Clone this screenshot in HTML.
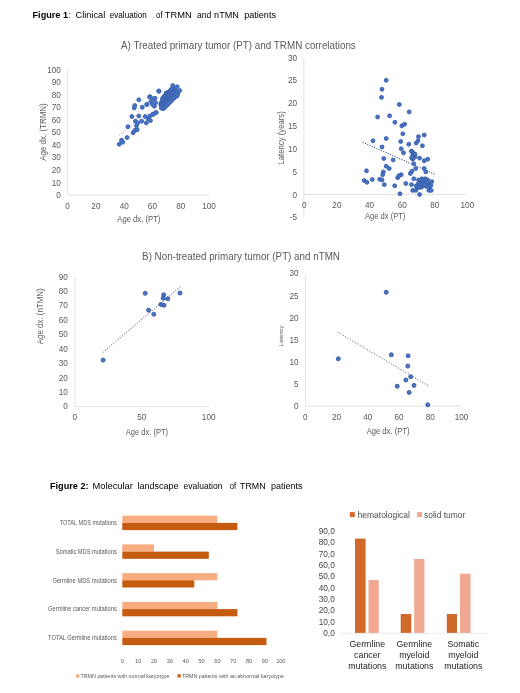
<!DOCTYPE html>
<html><head><meta charset="utf-8"><title>Figures</title>
<style>
html,body{margin:0;padding:0;background:#fff;}
body{width:520px;height:693px;overflow:hidden;font-family:"Liberation Sans",sans-serif;}
svg{display:block;filter:blur(0.35px)}
text{font-family:"Liberation Sans",sans-serif;}
.t{fill:#595959}
</style></head><body>
<svg width="520" height="693" viewBox="0 0 520 693">
<rect width="520" height="693" fill="#fff"/>
<text y="18.3" font-size="9.1" fill="#000"><tspan x="32.5" textLength="35.6" lengthAdjust="spacingAndGlyphs" font-weight="bold">Figure 1</tspan> <tspan x="68.5" textLength="2.1" lengthAdjust="spacingAndGlyphs">:</tspan> <tspan x="75.6" textLength="29.6" lengthAdjust="spacingAndGlyphs">Clinical</tspan> <tspan x="109.8" textLength="36.9" lengthAdjust="spacingAndGlyphs">evaluation</tspan> <tspan x="156" textLength="6.6" lengthAdjust="spacingAndGlyphs">of</tspan> <tspan x="164.8" textLength="26.9" lengthAdjust="spacingAndGlyphs">TRMN</tspan> <tspan x="197.1" textLength="14.3" lengthAdjust="spacingAndGlyphs">and</tspan> <tspan x="214.1" textLength="24.8" lengthAdjust="spacingAndGlyphs">nTMN</tspan> <tspan x="244.2" textLength="31.8" lengthAdjust="spacingAndGlyphs">patients</tspan></text>
<text x="238.4" y="48.8" font-size="10.5" text-anchor="middle" fill="#595959" textLength="234.8" lengthAdjust="spacingAndGlyphs">A) Treated primary tumor (PT) and TRMN correlations</text>
<path d="M67.6 69.6V195.0H209.5" fill="none" stroke="#D9D9D9" stroke-width="0.8"/>
<text x="60.9" y="198.0" font-size="8.2" text-anchor="end" fill="#595959">0</text>
<text x="60.9" y="185.5" font-size="8.2" text-anchor="end" fill="#595959">10</text>
<text x="60.9" y="172.9" font-size="8.2" text-anchor="end" fill="#595959">20</text>
<text x="60.9" y="160.4" font-size="8.2" text-anchor="end" fill="#595959">30</text>
<text x="60.9" y="147.8" font-size="8.2" text-anchor="end" fill="#595959">40</text>
<text x="60.9" y="135.3" font-size="8.2" text-anchor="end" fill="#595959">50</text>
<text x="60.9" y="122.8" font-size="8.2" text-anchor="end" fill="#595959">60</text>
<text x="60.9" y="110.2" font-size="8.2" text-anchor="end" fill="#595959">70</text>
<text x="60.9" y="97.7" font-size="8.2" text-anchor="end" fill="#595959">80</text>
<text x="60.9" y="85.1" font-size="8.2" text-anchor="end" fill="#595959">90</text>
<text x="60.9" y="72.6" font-size="8.2" text-anchor="end" fill="#595959">100</text>
<text x="67.6" y="208.6" font-size="8.2" text-anchor="middle" fill="#595959">0</text>
<text x="95.9" y="208.6" font-size="8.2" text-anchor="middle" fill="#595959">20</text>
<text x="124.2" y="208.6" font-size="8.2" text-anchor="middle" fill="#595959">40</text>
<text x="152.4" y="208.6" font-size="8.2" text-anchor="middle" fill="#595959">60</text>
<text x="180.7" y="208.6" font-size="8.2" text-anchor="middle" fill="#595959">80</text>
<text x="209.0" y="208.6" font-size="8.2" text-anchor="middle" fill="#595959">100</text>
<text x="138.8" y="221.6" font-size="8.6" text-anchor="middle" fill="#595959" textLength="43.0" lengthAdjust="spacingAndGlyphs">Age dx. (PT)</text>
<text x="0.0" y="0.0" font-size="8.6" text-anchor="middle" fill="#595959" textLength="57.5" lengthAdjust="spacingAndGlyphs" transform="translate(46.3,132) rotate(-90)">Age dx. (TRMN)</text>
<path d="M119.2 135.4L134 124.2" stroke="#E0607A" stroke-width="0.7" stroke-dasharray="1.2 1.2" fill="none"/>
<g fill="#4674C6" stroke="#3D63AF" stroke-width="0.9"><circle cx="119.2" cy="144.2" r="2.0"/><circle cx="121.5" cy="140.2" r="2.0"/><circle cx="122.7" cy="142.2" r="2.0"/><circle cx="127.1" cy="137.5" r="2.0"/><circle cx="127.9" cy="126.7" r="2.0"/><circle cx="133.1" cy="132.7" r="2.0"/><circle cx="134.8" cy="130.4" r="2.0"/><circle cx="137.1" cy="129.8" r="2.0"/><circle cx="136.5" cy="125.8" r="2.0"/><circle cx="135.4" cy="121.2" r="2.0"/><circle cx="137.7" cy="122.9" r="2.0"/><circle cx="131.9" cy="116.5" r="2.0"/><circle cx="138.8" cy="116.0" r="2.0"/><circle cx="145.2" cy="116.5" r="2.0"/><circle cx="141.7" cy="121.2" r="2.0"/><circle cx="146.3" cy="122.9" r="2.0"/><circle cx="148.1" cy="118.8" r="2.0"/><circle cx="150.4" cy="120.6" r="2.0"/><circle cx="149.8" cy="116.0" r="2.0"/><circle cx="153.3" cy="114.2" r="2.0"/><circle cx="156.2" cy="112.5" r="2.0"/><circle cx="134.8" cy="105.6" r="2.0"/><circle cx="134.2" cy="107.9" r="2.0"/><circle cx="138.8" cy="99.8" r="2.0"/><circle cx="142.3" cy="107.3" r="2.0"/><circle cx="146.9" cy="104.4" r="2.0"/><circle cx="149.8" cy="96.9" r="2.0"/><circle cx="151.0" cy="101.5" r="2.0"/><circle cx="153.8" cy="98.7" r="2.0"/><circle cx="154.4" cy="106.2" r="2.0"/><circle cx="155.6" cy="102.7" r="2.0"/><circle cx="159.0" cy="91.2" r="2.0"/><circle cx="172.7" cy="85.6" r="2.0"/><circle cx="174.6" cy="89.0" r="2.0"/><circle cx="178.1" cy="92.5" r="2.0"/><circle cx="176.9" cy="96.0" r="2.0"/><circle cx="173.5" cy="97.7" r="2.0"/><circle cx="170.0" cy="101.2" r="2.0"/><circle cx="167.1" cy="104.6" r="2.0"/><circle cx="163.1" cy="108.7" r="2.0"/><circle cx="161.3" cy="108.1" r="2.0"/><circle cx="160.8" cy="104.0" r="2.0"/><circle cx="162.5" cy="100.0" r="2.0"/><circle cx="164.8" cy="96.0" r="2.0"/><circle cx="167.7" cy="92.5" r="2.0"/><circle cx="170.6" cy="90.8" r="2.0"/><circle cx="172.9" cy="91.3" r="2.0"/><circle cx="175.2" cy="93.7" r="2.0"/><circle cx="171.2" cy="94.8" r="2.0"/><circle cx="168.8" cy="97.7" r="2.0"/><circle cx="166.0" cy="100.6" r="2.0"/><circle cx="164.2" cy="104.0" r="2.0"/><circle cx="163.1" cy="105.8" r="2.0"/><circle cx="169.4" cy="93.7" r="2.0"/><circle cx="167.1" cy="97.1" r="2.0"/><circle cx="174.0" cy="93.1" r="2.0"/><circle cx="171.7" cy="98.3" r="2.0"/><circle cx="158.7" cy="91.0" r="2.0"/><circle cx="149.8" cy="96.8" r="2.0"/><circle cx="155.0" cy="98.3" r="2.0"/><circle cx="146.9" cy="104.4" r="2.0"/><circle cx="152.7" cy="104.6" r="2.0"/><circle cx="155.6" cy="112.7" r="2.0"/><circle cx="152.7" cy="114.4" r="2.0"/><circle cx="161.2" cy="102.8" r="2.0"/><circle cx="161.2" cy="104.4" r="2.0"/><circle cx="161.2" cy="106.0" r="2.0"/><circle cx="162.8" cy="97.9" r="2.0"/><circle cx="162.8" cy="99.5" r="2.0"/><circle cx="162.8" cy="101.2" r="2.0"/><circle cx="162.8" cy="102.8" r="2.0"/><circle cx="162.8" cy="104.4" r="2.0"/><circle cx="162.8" cy="106.0" r="2.0"/><circle cx="162.8" cy="107.6" r="2.0"/><circle cx="164.5" cy="96.3" r="2.0"/><circle cx="164.5" cy="97.9" r="2.0"/><circle cx="164.5" cy="99.5" r="2.0"/><circle cx="164.5" cy="101.2" r="2.0"/><circle cx="164.5" cy="102.8" r="2.0"/><circle cx="164.5" cy="104.4" r="2.0"/><circle cx="164.5" cy="106.0" r="2.0"/><circle cx="164.5" cy="107.6" r="2.0"/><circle cx="166.1" cy="93.1" r="2.0"/><circle cx="166.1" cy="94.7" r="2.0"/><circle cx="166.1" cy="96.3" r="2.0"/><circle cx="166.1" cy="97.9" r="2.0"/><circle cx="166.1" cy="99.5" r="2.0"/><circle cx="166.1" cy="101.2" r="2.0"/><circle cx="166.1" cy="102.8" r="2.0"/><circle cx="166.1" cy="104.4" r="2.0"/><circle cx="166.1" cy="106.0" r="2.0"/><circle cx="167.7" cy="93.1" r="2.0"/><circle cx="167.7" cy="94.7" r="2.0"/><circle cx="167.7" cy="96.3" r="2.0"/><circle cx="167.7" cy="97.9" r="2.0"/><circle cx="167.7" cy="99.5" r="2.0"/><circle cx="167.7" cy="101.2" r="2.0"/><circle cx="167.7" cy="102.8" r="2.0"/><circle cx="167.7" cy="104.4" r="2.0"/><circle cx="169.3" cy="91.5" r="2.0"/><circle cx="169.3" cy="93.1" r="2.0"/><circle cx="169.3" cy="94.7" r="2.0"/><circle cx="169.3" cy="96.3" r="2.0"/><circle cx="169.3" cy="97.9" r="2.0"/><circle cx="169.3" cy="99.5" r="2.0"/><circle cx="169.3" cy="101.2" r="2.0"/><circle cx="169.3" cy="102.8" r="2.0"/><circle cx="170.9" cy="89.8" r="2.0"/><circle cx="170.9" cy="91.5" r="2.0"/><circle cx="170.9" cy="93.1" r="2.0"/><circle cx="170.9" cy="94.7" r="2.0"/><circle cx="170.9" cy="96.3" r="2.0"/><circle cx="170.9" cy="97.9" r="2.0"/><circle cx="170.9" cy="99.5" r="2.0"/><circle cx="170.9" cy="101.2" r="2.0"/><circle cx="172.5" cy="88.2" r="2.0"/><circle cx="172.5" cy="89.8" r="2.0"/><circle cx="172.5" cy="91.5" r="2.0"/><circle cx="172.5" cy="93.1" r="2.0"/><circle cx="172.5" cy="94.7" r="2.0"/><circle cx="172.5" cy="96.3" r="2.0"/><circle cx="172.5" cy="97.9" r="2.0"/><circle cx="172.5" cy="99.5" r="2.0"/><circle cx="174.2" cy="89.8" r="2.0"/><circle cx="174.2" cy="91.5" r="2.0"/><circle cx="174.2" cy="93.1" r="2.0"/><circle cx="174.2" cy="94.7" r="2.0"/><circle cx="174.2" cy="96.3" r="2.0"/><circle cx="174.2" cy="97.9" r="2.0"/><circle cx="175.8" cy="91.5" r="2.0"/><circle cx="175.8" cy="93.1" r="2.0"/><circle cx="175.8" cy="94.7" r="2.0"/><circle cx="175.8" cy="96.3" r="2.0"/><circle cx="177.4" cy="93.1" r="2.0"/><circle cx="177.4" cy="94.7" r="2.0"/><circle cx="179.6" cy="90.6" r="2.0"/><circle cx="177.2" cy="86.8" r="2.0"/></g>
<path d="M303.9 58.4V217.4" fill="none" stroke="#D9D9D9" stroke-width="0.8"/>
<path d="M303.9 194.4H466.2" fill="none" stroke="#D9D9D9" stroke-width="0.8"/>
<text x="297.1" y="220.3" font-size="8.2" text-anchor="end" fill="#595959">-5</text>
<text x="297.1" y="197.5" font-size="8.2" text-anchor="end" fill="#595959">0</text>
<text x="297.1" y="174.7" font-size="8.2" text-anchor="end" fill="#595959">5</text>
<text x="297.1" y="151.8" font-size="8.2" text-anchor="end" fill="#595959">10</text>
<text x="297.1" y="129.0" font-size="8.2" text-anchor="end" fill="#595959">15</text>
<text x="297.1" y="106.2" font-size="8.2" text-anchor="end" fill="#595959">20</text>
<text x="297.1" y="83.3" font-size="8.2" text-anchor="end" fill="#595959">25</text>
<text x="297.1" y="60.5" font-size="8.2" text-anchor="end" fill="#595959">30</text>
<text x="304.3" y="208.3" font-size="8.2" text-anchor="middle" fill="#595959">0</text>
<text x="336.9" y="208.3" font-size="8.2" text-anchor="middle" fill="#595959">20</text>
<text x="369.5" y="208.3" font-size="8.2" text-anchor="middle" fill="#595959">40</text>
<text x="402.2" y="208.3" font-size="8.2" text-anchor="middle" fill="#595959">60</text>
<text x="434.8" y="208.3" font-size="8.2" text-anchor="middle" fill="#595959">80</text>
<text x="467.4" y="208.3" font-size="8.2" text-anchor="middle" fill="#595959">100</text>
<text x="385.2" y="218.8" font-size="8.6" text-anchor="middle" fill="#595959" textLength="40.4" lengthAdjust="spacingAndGlyphs">Age dx (PT)</text>
<text x="0.0" y="0.0" font-size="8.6" text-anchor="middle" fill="#595959" textLength="53.3" lengthAdjust="spacingAndGlyphs" transform="translate(283.7,137.9) rotate(-90)">Latency (years)</text>
<path d="M363.1 142.4L435.8 174.7" stroke="#34508A" stroke-width="1.15" stroke-linecap="round" stroke-dasharray="0.1 2.4" fill="none"/>
<g fill="#4674C6" stroke="#3A5EA8" stroke-width="0.9"><circle cx="386.2" cy="80.3" r="1.95"/><circle cx="382.0" cy="89.3" r="1.95"/><circle cx="381.5" cy="97.4" r="1.95"/><circle cx="399.3" cy="104.5" r="1.95"/><circle cx="409.2" cy="111.9" r="1.95"/><circle cx="377.6" cy="117.0" r="1.95"/><circle cx="389.6" cy="115.8" r="1.95"/><circle cx="394.9" cy="122.3" r="1.95"/><circle cx="401.8" cy="125.8" r="1.95"/><circle cx="404.6" cy="124.2" r="1.95"/><circle cx="402.8" cy="133.8" r="1.95"/><circle cx="418.5" cy="136.6" r="1.95"/><circle cx="424.2" cy="135.0" r="1.95"/><circle cx="386.2" cy="138.5" r="1.95"/><circle cx="373.0" cy="140.8" r="1.95"/><circle cx="400.7" cy="141.5" r="1.95"/><circle cx="408.8" cy="144.2" r="1.95"/><circle cx="416.2" cy="143.1" r="1.95"/><circle cx="422.4" cy="145.8" r="1.95"/><circle cx="382.0" cy="147.0" r="1.95"/><circle cx="401.2" cy="148.8" r="1.95"/><circle cx="403.5" cy="152.8" r="1.95"/><circle cx="411.5" cy="151.2" r="1.95"/><circle cx="413.8" cy="153.5" r="1.95"/><circle cx="412.7" cy="155.8" r="1.95"/><circle cx="415.0" cy="156.9" r="1.95"/><circle cx="419.6" cy="158.1" r="1.95"/><circle cx="412.7" cy="159.2" r="1.95"/><circle cx="427.7" cy="159.2" r="1.95"/><circle cx="424.2" cy="160.8" r="1.95"/><circle cx="383.8" cy="158.5" r="1.95"/><circle cx="393.1" cy="159.9" r="1.95"/><circle cx="413.8" cy="163.8" r="1.95"/><circle cx="386.2" cy="166.2" r="1.95"/><circle cx="389.2" cy="168.5" r="1.95"/><circle cx="415.7" cy="168.5" r="1.95"/><circle cx="424.2" cy="168.5" r="1.95"/><circle cx="425.8" cy="171.9" r="1.95"/><circle cx="366.5" cy="170.8" r="1.95"/><circle cx="383.4" cy="171.9" r="1.95"/><circle cx="382.7" cy="174.7" r="1.95"/><circle cx="410.4" cy="173.5" r="1.95"/><circle cx="401.2" cy="174.7" r="1.95"/><circle cx="397.7" cy="177.7" r="1.95"/><circle cx="372.3" cy="179.5" r="1.95"/><circle cx="379.7" cy="179.3" r="1.95"/><circle cx="382.0" cy="180.0" r="1.95"/><circle cx="364.2" cy="180.5" r="1.95"/><circle cx="367.0" cy="182.3" r="1.95"/><circle cx="384.3" cy="184.6" r="1.95"/><circle cx="394.7" cy="185.8" r="1.95"/><circle cx="405.8" cy="183.5" r="1.95"/><circle cx="411.5" cy="184.6" r="1.95"/><circle cx="413.8" cy="178.8" r="1.95"/><circle cx="418.5" cy="180.0" r="1.95"/><circle cx="421.9" cy="178.8" r="1.95"/><circle cx="425.4" cy="178.8" r="1.95"/><circle cx="427.7" cy="180.0" r="1.95"/><circle cx="420.8" cy="182.3" r="1.95"/><circle cx="424.2" cy="182.3" r="1.95"/><circle cx="427.7" cy="183.5" r="1.95"/><circle cx="431.8" cy="181.6" r="1.95"/><circle cx="419.6" cy="185.8" r="1.95"/><circle cx="423.1" cy="185.8" r="1.95"/><circle cx="426.5" cy="186.5" r="1.95"/><circle cx="429.5" cy="186.9" r="1.95"/><circle cx="417.3" cy="188.1" r="1.95"/><circle cx="412.7" cy="190.4" r="1.95"/><circle cx="415.7" cy="190.4" r="1.95"/><circle cx="428.8" cy="190.4" r="1.95"/><circle cx="431.2" cy="190.4" r="1.95"/><circle cx="400.0" cy="193.8" r="1.95"/><circle cx="419.6" cy="194.5" r="1.95"/><circle cx="420.8" cy="180.0" r="1.95"/><circle cx="423.5" cy="180.5" r="1.95"/><circle cx="425.8" cy="181.8" r="1.95"/><circle cx="422.2" cy="184.2" r="1.95"/><circle cx="424.9" cy="184.6" r="1.95"/><circle cx="418.5" cy="183.5" r="1.95"/><circle cx="421.2" cy="187.4" r="1.95"/><circle cx="416.2" cy="185.8" r="1.95"/><circle cx="418.0" cy="140.7" r="1.95"/><circle cx="411.9" cy="151.6" r="1.95"/><circle cx="415.0" cy="154.2" r="1.95"/><circle cx="411.6" cy="157.7" r="1.95"/><circle cx="411.9" cy="171.2" r="1.95"/><circle cx="398.9" cy="175.8" r="1.95"/><circle cx="430.9" cy="185.4" r="1.95"/><circle cx="428.3" cy="181.9" r="1.95"/><circle cx="418.8" cy="187.1" r="1.95"/></g>
<text x="241.0" y="260.4" font-size="10.5" text-anchor="middle" fill="#595959" textLength="197.8" lengthAdjust="spacingAndGlyphs">B) Non-treated primary tumor (PT) and nTMN</text>
<path d="M74.9 277.5V406.6H209.1" fill="none" stroke="#D9D9D9" stroke-width="0.8"/>
<text x="67.9" y="409.4" font-size="8.2" text-anchor="end" fill="#595959">0</text>
<text x="67.9" y="395.0" font-size="8.2" text-anchor="end" fill="#595959">10</text>
<text x="67.9" y="380.5" font-size="8.2" text-anchor="end" fill="#595959">20</text>
<text x="67.9" y="366.1" font-size="8.2" text-anchor="end" fill="#595959">30</text>
<text x="67.9" y="351.7" font-size="8.2" text-anchor="end" fill="#595959">40</text>
<text x="67.9" y="337.3" font-size="8.2" text-anchor="end" fill="#595959">50</text>
<text x="67.9" y="322.8" font-size="8.2" text-anchor="end" fill="#595959">60</text>
<text x="67.9" y="308.4" font-size="8.2" text-anchor="end" fill="#595959">70</text>
<text x="67.9" y="294.0" font-size="8.2" text-anchor="end" fill="#595959">80</text>
<text x="67.9" y="279.5" font-size="8.2" text-anchor="end" fill="#595959">90</text>
<text x="74.9" y="419.9" font-size="8.2" text-anchor="middle" fill="#595959">0</text>
<text x="141.8" y="419.9" font-size="8.2" text-anchor="middle" fill="#595959">50</text>
<text x="208.7" y="419.9" font-size="8.2" text-anchor="middle" fill="#595959">100</text>
<text x="146.9" y="435.2" font-size="8.6" text-anchor="middle" fill="#595959" textLength="42.5" lengthAdjust="spacingAndGlyphs">Age dx. (PT)</text>
<text x="0.0" y="0.0" font-size="8.6" text-anchor="middle" fill="#595959" textLength="55.8" lengthAdjust="spacingAndGlyphs" transform="translate(42.5,316.3) rotate(-90)">Age dx. (nTMN)</text>
<path d="M103.1 352.1L180.6 286.5" stroke="#6E7A99" stroke-width="1.15" stroke-linecap="round" stroke-dasharray="0.1 2.7" fill="none"/>
<g fill="#4A76C6" stroke="#34559D" stroke-width="0.9"><circle cx="103.1" cy="360.1" r="2.0"/><circle cx="145.2" cy="293.3" r="2.0"/><circle cx="148.6" cy="310.2" r="2.0"/><circle cx="153.8" cy="314.2" r="2.0"/><circle cx="160.9" cy="304.4" r="2.0"/><circle cx="164.0" cy="305.3" r="2.0"/><circle cx="163.7" cy="294.8" r="2.0"/><circle cx="163.1" cy="298.2" r="2.0"/><circle cx="167.7" cy="298.8" r="2.0"/><circle cx="180.0" cy="293.0" r="2.0"/></g>
<path d="M305.5 274.5V406.2H461.4" fill="none" stroke="#D9D9D9" stroke-width="0.8"/>
<text x="298.5" y="408.9" font-size="8.2" text-anchor="end" fill="#595959">0</text>
<text x="298.5" y="386.8" font-size="8.2" text-anchor="end" fill="#595959">5</text>
<text x="298.5" y="364.7" font-size="8.2" text-anchor="end" fill="#595959">10</text>
<text x="298.5" y="342.6" font-size="8.2" text-anchor="end" fill="#595959">15</text>
<text x="298.5" y="320.6" font-size="8.2" text-anchor="end" fill="#595959">20</text>
<text x="298.5" y="298.5" font-size="8.2" text-anchor="end" fill="#595959">25</text>
<text x="298.5" y="276.4" font-size="8.2" text-anchor="end" fill="#595959">30</text>
<text x="305.3" y="420.0" font-size="8.2" text-anchor="middle" fill="#595959">0</text>
<text x="336.6" y="420.0" font-size="8.2" text-anchor="middle" fill="#595959">20</text>
<text x="367.8" y="420.0" font-size="8.2" text-anchor="middle" fill="#595959">40</text>
<text x="399.1" y="420.0" font-size="8.2" text-anchor="middle" fill="#595959">60</text>
<text x="430.3" y="420.0" font-size="8.2" text-anchor="middle" fill="#595959">80</text>
<text x="461.6" y="420.0" font-size="8.2" text-anchor="middle" fill="#595959">100</text>
<text x="388.1" y="433.6" font-size="8.6" text-anchor="middle" fill="#595959" textLength="42.8" lengthAdjust="spacingAndGlyphs">Age dx. (PT)</text>
<text x="0.0" y="0.0" font-size="5.8" text-anchor="middle" fill="#595959" textLength="20.8" lengthAdjust="spacingAndGlyphs" transform="translate(282.8,336) rotate(-90)">Latency</text>
<path d="M338.3 332.5L427.8 385.4" stroke="#6E7A99" stroke-width="1.15" stroke-linecap="round" stroke-dasharray="0.1 2.7" fill="none"/>
<g fill="#4A76C6" stroke="#34559D" stroke-width="0.9"><circle cx="386.2" cy="292.3" r="2.0"/><circle cx="338.3" cy="358.8" r="2.0"/><circle cx="391.3" cy="354.8" r="2.0"/><circle cx="408.1" cy="355.8" r="2.0"/><circle cx="407.8" cy="366.1" r="2.0"/><circle cx="410.7" cy="376.7" r="2.0"/><circle cx="405.9" cy="380.0" r="2.0"/><circle cx="397.2" cy="386.2" r="2.0"/><circle cx="414.0" cy="385.4" r="2.0"/><circle cx="409.2" cy="392.4" r="2.0"/><circle cx="427.8" cy="404.8" r="2.0"/></g>
<text y="488.8" font-size="9.2" fill="#000"><tspan x="50" textLength="38.5" lengthAdjust="spacingAndGlyphs" font-weight="bold">Figure 2:</tspan> <tspan x="92.5" textLength="40.4" lengthAdjust="spacingAndGlyphs">Molecular</tspan> <tspan x="137.5" textLength="41.1" lengthAdjust="spacingAndGlyphs">landscape</tspan> <tspan x="183.5" textLength="39.0" lengthAdjust="spacingAndGlyphs">evaluation</tspan> <tspan x="229.8" textLength="6.4" lengthAdjust="spacingAndGlyphs">of</tspan> <tspan x="240" textLength="25.6" lengthAdjust="spacingAndGlyphs">TRMN</tspan> <tspan x="271" textLength="31.5" lengthAdjust="spacingAndGlyphs">patients</tspan></text>
<text x="122.3" y="663.0" font-size="5.6" text-anchor="middle" fill="#595959">0</text>
<text x="138.2" y="663.0" font-size="5.6" text-anchor="middle" fill="#595959">10</text>
<text x="154.0" y="663.0" font-size="5.6" text-anchor="middle" fill="#595959">20</text>
<text x="169.8" y="663.0" font-size="5.6" text-anchor="middle" fill="#595959">30</text>
<text x="185.7" y="663.0" font-size="5.6" text-anchor="middle" fill="#595959">40</text>
<text x="201.6" y="663.0" font-size="5.6" text-anchor="middle" fill="#595959">50</text>
<text x="217.4" y="663.0" font-size="5.6" text-anchor="middle" fill="#595959">60</text>
<text x="233.2" y="663.0" font-size="5.6" text-anchor="middle" fill="#595959">70</text>
<text x="249.1" y="663.0" font-size="5.6" text-anchor="middle" fill="#595959">80</text>
<text x="264.9" y="663.0" font-size="5.6" text-anchor="middle" fill="#595959">90</text>
<text x="280.8" y="663.0" font-size="5.6" text-anchor="middle" fill="#595959">100</text>
<rect x="122.3" y="515.7" width="95.1" height="7.2" fill="#F7AD80"/>
<rect x="122.3" y="522.9" width="115.1" height="7.2" fill="#C55A11"/>
<text x="116.8" y="525.2" font-size="6.4" text-anchor="end" fill="#595959" textLength="57.1" lengthAdjust="spacingAndGlyphs">TOTAL MDS mutations</text>
<rect x="122.3" y="544.4" width="31.7" height="7.2" fill="#F7AD80"/>
<rect x="122.3" y="551.6" width="86.5" height="7.2" fill="#C55A11"/>
<text x="116.8" y="553.9" font-size="6.4" text-anchor="end" fill="#595959" textLength="61.1" lengthAdjust="spacingAndGlyphs">Somatic MDS mutations</text>
<rect x="122.3" y="573.1" width="95.1" height="7.2" fill="#F7AD80"/>
<rect x="122.3" y="580.3" width="72.0" height="7.2" fill="#C55A11"/>
<text x="116.8" y="582.6" font-size="6.4" text-anchor="end" fill="#595959" textLength="64.4" lengthAdjust="spacingAndGlyphs">Germline MDS mutations</text>
<rect x="122.3" y="601.9" width="95.1" height="7.2" fill="#F7AD80"/>
<rect x="122.3" y="609.1" width="115.1" height="7.2" fill="#C55A11"/>
<text x="116.8" y="611.4" font-size="6.4" text-anchor="end" fill="#595959" textLength="68.7" lengthAdjust="spacingAndGlyphs">Germline cancer mutations</text>
<rect x="122.3" y="630.7" width="95.1" height="7.2" fill="#F7AD80"/>
<rect x="122.3" y="637.9" width="144.2" height="7.2" fill="#C55A11"/>
<text x="116.8" y="640.2" font-size="6.4" text-anchor="end" fill="#595959" textLength="68.7" lengthAdjust="spacingAndGlyphs">TOTAL Germline mutations</text>
<rect x="76" y="674.3" width="3.2" height="3.2" fill="#F7AD80"/>
<text x="80.5" y="678.0" font-size="5.4" text-anchor="start" fill="#595959" textLength="89.0" lengthAdjust="spacingAndGlyphs">TRMN patients with normal karyotype</text>
<rect x="177.5" y="674.3" width="3.2" height="3.2" fill="#C55A11"/>
<text x="182.0" y="678.0" font-size="5.4" text-anchor="start" fill="#595959" textLength="102.0" lengthAdjust="spacingAndGlyphs">TRMN patients with an abnormal karyotype</text>
<text x="334.8" y="635.9" font-size="8.3" text-anchor="end" fill="#454545">0,0</text>
<text x="334.8" y="624.6" font-size="8.3" text-anchor="end" fill="#454545">10,0</text>
<text x="334.8" y="613.2" font-size="8.3" text-anchor="end" fill="#454545">20,0</text>
<text x="334.8" y="601.9" font-size="8.3" text-anchor="end" fill="#454545">30,0</text>
<text x="334.8" y="590.6" font-size="8.3" text-anchor="end" fill="#454545">40,0</text>
<text x="334.8" y="579.2" font-size="8.3" text-anchor="end" fill="#454545">50,0</text>
<text x="334.8" y="567.9" font-size="8.3" text-anchor="end" fill="#454545">60,0</text>
<text x="334.8" y="556.6" font-size="8.3" text-anchor="end" fill="#454545">70,0</text>
<text x="334.8" y="545.2" font-size="8.3" text-anchor="end" fill="#454545">80,0</text>
<text x="334.8" y="533.9" font-size="8.3" text-anchor="end" fill="#454545">90,0</text>
<rect x="355" y="538.6" width="10.6" height="94.4" fill="#D06A2B"/>
<rect x="368.5" y="580.1" width="10.2" height="52.9" fill="#F1A891"/>
<rect x="400.7" y="614.0" width="10.6" height="19.0" fill="#D06A2B"/>
<rect x="414.2" y="559.0" width="10.2" height="74.0" fill="#F1A891"/>
<rect x="446.8" y="614.0" width="10.2" height="19.0" fill="#D06A2B"/>
<rect x="460" y="573.7" width="10.5" height="59.3" fill="#F1A891"/>
<path d="M340 633.3H486" stroke="#E2E2E2" stroke-width="0.7"/>
<rect x="349.8" y="512.1" width="5" height="5" fill="#D06A2B"/>
<text x="357.5" y="517.5" font-size="8.4" text-anchor="start" fill="#4A4F57" textLength="52.5" lengthAdjust="spacingAndGlyphs">hematological</text>
<rect x="417.1" y="512.1" width="5" height="5" fill="#F1A891"/>
<text x="424.0" y="517.5" font-size="8.4" text-anchor="start" fill="#4A4F57" textLength="41.2" lengthAdjust="spacingAndGlyphs">solid tumor</text>
<text x="367.3" y="647.2" font-size="8.8" text-anchor="middle" fill="#222">Germline</text>
<text x="367.3" y="658.1" font-size="8.8" text-anchor="middle" fill="#222">cancer</text>
<text x="367.3" y="669.0" font-size="8.8" text-anchor="middle" fill="#222">mutations</text>
<text x="414.3" y="647.2" font-size="8.8" text-anchor="middle" fill="#222">Germline</text>
<text x="414.3" y="658.1" font-size="8.8" text-anchor="middle" fill="#222">myeloid</text>
<text x="414.3" y="669.0" font-size="8.8" text-anchor="middle" fill="#222">mutations</text>
<text x="463.3" y="647.2" font-size="8.8" text-anchor="middle" fill="#222">Somatic</text>
<text x="463.3" y="658.1" font-size="8.8" text-anchor="middle" fill="#222">myeloid</text>
<text x="463.3" y="669.0" font-size="8.8" text-anchor="middle" fill="#222">mutations</text>
</svg></body></html>
